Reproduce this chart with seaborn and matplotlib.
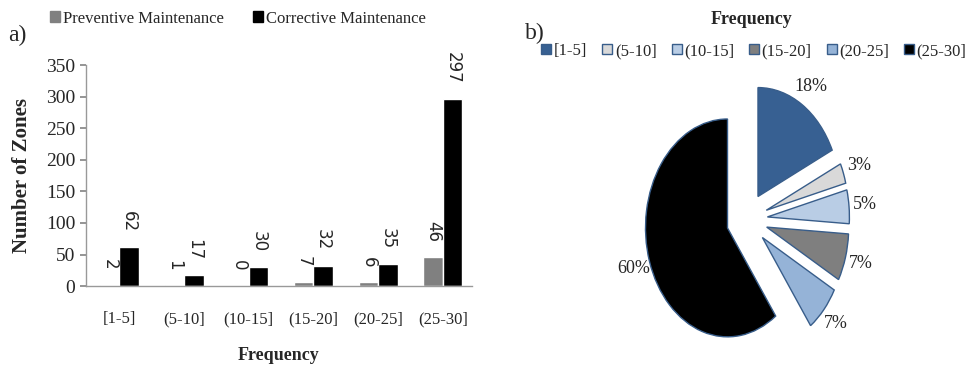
import pandas as pd
import matplotlib.pyplot as plt
import seaborn as sns
from matplotlib.patches import Patch

# données
categories = ['[1-5]', '(5-10]', '(10-15]', '(15-20]', '(20-25]', '(25-30]']
preventive = [2, 1, 0, 7, 6, 46]
corrective = [62, 17, 30, 32, 35, 297]
pie_share = [18, 3, 5, 7, 7, 60]

pie_colors = ['#376092', '#d9d9d9', '#b9cde5', '#7f7f7f', '#95b3d7', '#000000']
edge_blue = '#385d8a'

sns.set_theme(style='white')
plt.rcParams['font.family'] = ['Liberation Serif', 'DejaVu Serif']

df = pd.DataFrame({
    'Frequency': categories * 2,
    'Zones': preventive + corrective,
    'Type': ['Preventive Maintenance'] * 6 + ['Corrective Maintenance'] * 6,
})

fig = plt.figure(figsize=(9.75, 3.72), dpi=100)

# === a) barres ===
ax = fig.add_axes([0.088, 0.231, 0.396, 0.594])
sns.barplot(data=df, x='Frequency', y='Zones', hue='Type',
            palette=['#808080', '#000000'], width=0.6, saturation=1,
            ax=ax, legend=False)
for c in ax.containers:
    ax.bar_label(c, rotation=270, padding=11, fontsize=12, family='DejaVu Sans',
                 clip_on=False)
ax.set_ylim(0, 350)
ax.set_xlim(-0.52, 5.45)
ax.set_yticks(range(0, 351, 50))
ax.tick_params(axis='y', labelsize=14, length=4, color='#888888', left=True)
ax.tick_params(axis='x', labelsize=12, length=0, pad=18)
for s in ['top', 'right']:
    ax.spines[s].set_visible(False)
for s in ['left', 'bottom']:
    ax.spines[s].set_color('#999999')
    ax.spines[s].set_linewidth(1)
ax.set_xlabel('Frequency', fontsize=13, fontweight='bold', labelpad=14)
ax.set_ylabel('Number of Zones', fontsize=15, fontweight='bold', labelpad=10)

handles = [Patch(color='#808080', label='Preventive Maintenance'),
           Patch(color='#000000', label='Corrective Maintenance')]
fig.legend(handles=handles, loc='center left', bbox_to_anchor=(0.036, 0.95),
           ncol=2, frameon=False, fontsize=12, handlelength=0.6,
           handleheight=0.6, handletextpad=0.15, columnspacing=1.8)
fig.text(0.008, 0.89, 'a)', fontsize=17)

# === b) camembert ===
ax2 = fig.add_axes([624 / 975, 0.0, 246 / 975, 305 / 372])
ax2.pie(pie_share, colors=pie_colors, startangle=90, counterclock=False,
        explode=[0.25] * 6, autopct='%d%%', pctdistance=1.2,
        wedgeprops=dict(edgecolor=edge_blue, linewidth=1),
        textprops=dict(fontsize=13))
ax2.set_aspect('auto')
ax2.set_xlim(-1.5, 1.5)
ax2.set_ylim(-1.4, 1.4)
ax2.axis('off')

fig.text(752 / 975, 1 - 19 / 372, 'Frequency', fontsize=13, fontweight='bold',
         ha='center', va='center')
fig.text(0.538, 0.895, 'b)', fontsize=17)
pie_handles = [Patch(facecolor=col, edgecolor=edge_blue, label=cat)
               for col, cat in zip(pie_colors, categories)]
fig.legend(handles=pie_handles, loc='center', bbox_to_anchor=(754 / 975, 1 - 51 / 372),
           ncol=6, frameon=False, fontsize=12, handlelength=0.6,
           handleheight=0.6, handletextpad=0.15, columnspacing=0.9)

fig.savefig('out.png', dpi=100)
